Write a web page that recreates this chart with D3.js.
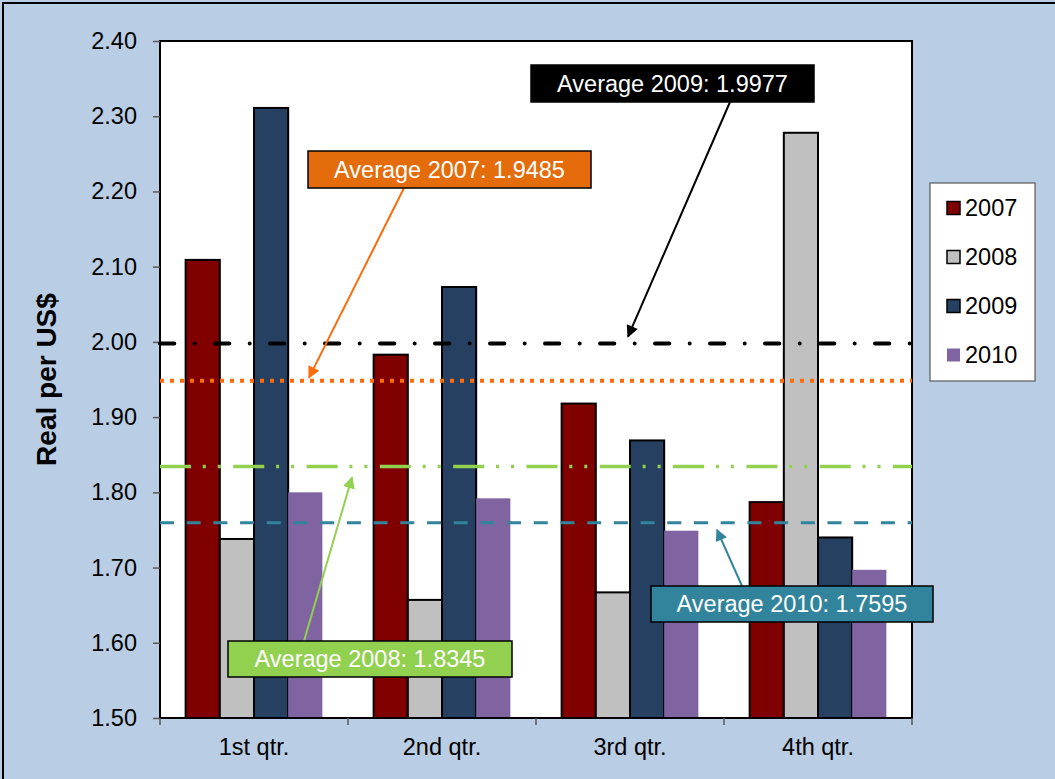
<!DOCTYPE html>
<html>
<head>
<meta charset="utf-8">
<script src="https://cdn.jsdelivr.net/npm/d3@7/dist/d3.min.js"></script>
<style>
  html, body { margin: 0; padding: 0; background: #B9CDE5; }
  svg { display: block; font-family: "Liberation Sans", Arial, sans-serif; }
</style>
</head>
<body>
<svg id="chart" width="1055" height="779"></svg>
<script>
// Quarterly exchange rate, Real per US$
const quarters = ["1st qtr.", "2nd qtr.", "3rd qtr.", "4th qtr."];
const years = ["2007", "2008", "2009", "2010"];
const values2007 = [2.109, 1.983, 1.918, 1.787];
const values2008 = [1.738, 1.657, 1.667, 2.278];
const values2009 = [2.311, 2.073, 1.869, 1.740];
const values2010 = [1.800, 1.792, 1.749, 1.697];
const averages = [1.9485, 1.8345, 1.9977, 1.7595];
const yTicks = [1.50, 1.60, 1.70, 1.80, 1.90, 2.00, 2.10, 2.20, 2.30, 2.40];
const axisTitle = "Real per US$";

const seriesValues = [values2007, values2008, values2009, values2010];
const colors = ["#800000", "#C0C0C0", "#254061", "#8064A2"];
const outlined = [true, true, true, false];

// Styling of each average line and its callout
const avgStyles = [
  { line: "#FF6A0A", box: "#E46C0A", width: 4,   dash: "4,6",                 cap: "butt" },
  { line: "#92D050", box: "#92D050", width: 3.5, dash: "31,11.8,3,12,3,12.5", cap: "butt" },
  { line: "#000000", box: "#000000", width: 4,   dash: "14.3,20.4,0,20.3",    cap: "round" },
  { line: "#31849B", box: "#31849B", width: 3,   dash: "14,12.7",             cap: "butt" }
];
// Callout box geometry and arrow endpoints (x of box anchor, x/dy of tip)
const callouts = [
  { x: 308, y: 151, w: 283, h: 37, ax: 404, ay: 188, tx: 309, dy: -3 },
  { x: 228, y: 641, w: 284, h: 36, ax: 304, ay: 641, tx: 352, dy: 11 },
  { x: 531, y: 65,  w: 283, h: 37, ax: 730, ay: 102, tx: 628, dy: -7 },
  { x: 651, y: 586, w: 282, h: 36, ax: 742, ay: 586, tx: 717, dy: 7 }
];

const svg = d3.select("#chart");
const plot = { left: 160, right: 912, top: 41, bottom: 718 };
const fontSize = 23.5;

// Outer chart frame
svg.append("rect")
  .attr("x", 3).attr("y", 3).attr("width", 1070).attr("height", 800)
  .attr("fill", "#B9CDE5").attr("stroke", "#000").attr("stroke-width", 2);

const x0 = d3.scaleBand().domain(quarters).range([plot.left, plot.right]).padding(0);
const x1 = d3.scaleBand().domain(years).range([0, x0.bandwidth()]).paddingInner(0).paddingOuter(0.75);
const y = d3.scaleLinear().domain([1.5, 2.4]).range([plot.bottom, plot.top]);

// Plot area
svg.append("rect")
  .attr("x", plot.left).attr("y", plot.top)
  .attr("width", plot.right - plot.left).attr("height", plot.bottom - plot.top)
  .attr("fill", "#fff");

// Bars
const groups = svg.append("g").selectAll("g")
  .data(quarters).join("g")
  .attr("transform", q => `translate(${x0(q)},0)`);

groups.selectAll("rect")
  .data((q, qi) => years.map((yr, si) => ({ yr, si, v: seriesValues[si][qi] })))
  .join("rect")
  .attr("x", d => x1(d.yr))
  .attr("y", d => y(d.v))
  .attr("width", x1.bandwidth())
  .attr("height", d => y(1.5) - y(d.v))
  .attr("fill", d => colors[d.si])
  .attr("stroke", d => outlined[d.si] ? "#000" : "none")
  .attr("stroke-width", 2);

// Plot border
svg.append("rect")
  .attr("x", plot.left).attr("y", plot.top)
  .attr("width", plot.right - plot.left).attr("height", plot.bottom - plot.top)
  .attr("fill", "none").attr("stroke", "#000").attr("stroke-width", 2);

// Y axis
const yAxis = svg.append("g")
  .attr("transform", `translate(${plot.left},0)`)
  .call(d3.axisLeft(y).tickValues(yTicks).tickSize(7).tickPadding(16).tickFormat(d3.format(".2f")));
yAxis.select(".domain").remove();
yAxis.selectAll(".tick line").attr("stroke", "#595959").attr("stroke-width", 1.5);
yAxis.selectAll(".tick text")
  .attr("font-size", fontSize).attr("fill", "#000")
  .attr("font-family", "'Liberation Sans', Arial, sans-serif");

// X axis: labels centred on categories, ticks on category boundaries
const xAxis = svg.append("g")
  .attr("transform", `translate(0,${plot.bottom})`)
  .call(d3.axisBottom(x0).tickSize(0).tickPadding(20));
xAxis.select(".domain").remove();
xAxis.selectAll(".tick text")
  .attr("font-size", fontSize).attr("fill", "#000")
  .attr("font-family", "'Liberation Sans', Arial, sans-serif");
const bounds = quarters.map(q => x0(q)).concat([plot.right]);
svg.append("g").selectAll("line")
  .data(bounds).join("line")
  .attr("x1", d => d).attr("x2", d => d)
  .attr("y1", plot.bottom).attr("y2", plot.bottom + 7)
  .attr("stroke", "#595959").attr("stroke-width", 1.5);

// Y axis title
svg.append("text")
  .attr("transform", `translate(56,${(plot.top + plot.bottom) / 2}) rotate(-90)`)
  .attr("text-anchor", "middle")
  .attr("font-size", 28).attr("font-weight", "bold")
  .text(axisTitle);

// Average lines
svg.append("g").selectAll("line")
  .data(averages).join("line")
  .attr("x1", plot.left).attr("x2", plot.right)
  .attr("y1", d => y(d)).attr("y2", d => y(d))
  .attr("stroke", (d, i) => avgStyles[i].line)
  .attr("stroke-width", (d, i) => avgStyles[i].width)
  .attr("stroke-dasharray", (d, i) => avgStyles[i].dash)
  .attr("stroke-linecap", (d, i) => avgStyles[i].cap);

// Arrow heads
const defs = svg.append("defs");
avgStyles.forEach((s, i) => {
  defs.append("marker")
    .attr("id", "arrow" + i)
    .attr("viewBox", "0 0 10 10")
    .attr("refX", 9).attr("refY", 5)
    .attr("markerUnits", "userSpaceOnUse")
    .attr("markerWidth", 14).attr("markerHeight", 12)
    .attr("orient", "auto")
    .append("path").attr("d", "M0,0 L10,5 L0,10 Z").attr("fill", s.line);
});

// Callout arrows
svg.append("g").selectAll("line")
  .data(averages).join("line")
  .attr("x1", (d, i) => callouts[i].ax).attr("y1", (d, i) => callouts[i].ay)
  .attr("x2", (d, i) => callouts[i].tx).attr("y2", (d, i) => y(d) + callouts[i].dy)
  .attr("stroke", (d, i) => avgStyles[i].line)
  .attr("stroke-width", 2)
  .attr("marker-end", (d, i) => `url(#arrow${i})`);

// Callout boxes
const boxes = svg.append("g").selectAll("g")
  .data(averages).join("g");
boxes.append("rect")
  .attr("x", (d, i) => callouts[i].x).attr("y", (d, i) => callouts[i].y)
  .attr("width", (d, i) => callouts[i].w).attr("height", (d, i) => callouts[i].h)
  .attr("fill", (d, i) => avgStyles[i].box)
  .attr("stroke", "#000").attr("stroke-width", 1.5);
boxes.append("text")
  .attr("x", (d, i) => callouts[i].x + callouts[i].w / 2)
  .attr("y", (d, i) => callouts[i].y + callouts[i].h / 2)
  .attr("dy", "0.36em")
  .attr("text-anchor", "middle")
  .attr("font-size", fontSize).attr("fill", "#fff")
  .text((d, i) => `Average ${years[i]}: ${d.toFixed(4)}`);

// Legend
const legend = svg.append("g");
legend.append("rect")
  .attr("x", 930).attr("y", 183).attr("width", 105).attr("height", 198)
  .attr("fill", "#fff").attr("stroke", "#595959").attr("stroke-width", 1.2);
const items = legend.selectAll("g.item")
  .data(years).join("g").attr("class", "item")
  .attr("transform", (d, i) => `translate(947,${208 + i * 49})`);
items.append("rect")
  .attr("x", 0).attr("y", -6.5).attr("width", 13).attr("height", 13)
  .attr("fill", (d, i) => colors[i])
  .attr("stroke", (d, i) => outlined[i] ? "#000" : "none")
  .attr("stroke-width", 1.5);
items.append("text")
  .attr("x", 18).attr("dy", "0.36em")
  .attr("font-size", fontSize).attr("fill", "#000")
  .text(d => d);
</script>
</body>
</html>
